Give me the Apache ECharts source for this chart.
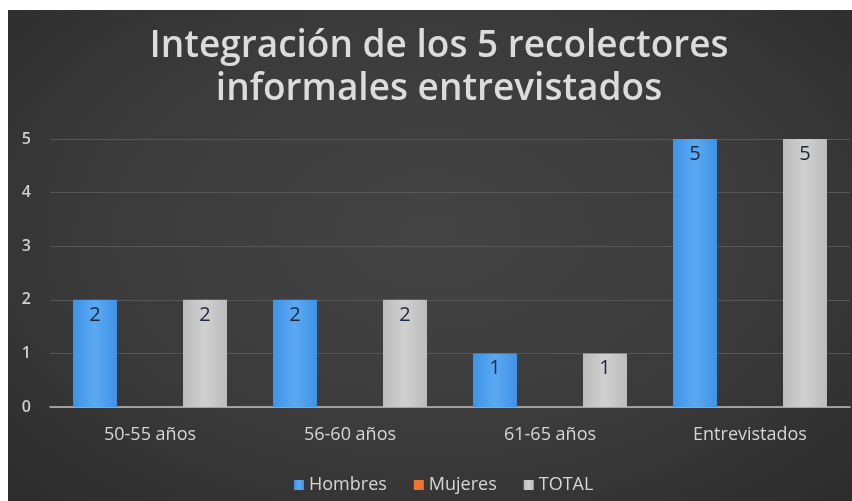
<!DOCTYPE html>
<html>
<head>
<meta charset="utf-8">
<script src="https://cdn.jsdelivr.net/npm/echarts@6/dist/echarts.min.js"></script>
<style>
  html, body { margin: 0; padding: 0; background: #fff; }
  #chart {
    position: absolute; left: 8px; top: 10px; width: 844px; height: 491px;
    background: radial-gradient(ellipse at 50% 45%, #444444 0%, #3b3b3b 55%, #2c2c2c 100%);
  }
</style>
</head>
<body>
<div id="chart"></div>
<script>
// categorías y valores
const categories = ['50-55 años', '56-60 años', '61-65 años', 'Entrevistados'];
const hombres = [2, 2, 1, 5];
const mujeres = [0, 0, 0, 0];
const total = [2, 2, 1, 5];
const yTicks = [0, 1, 2, 3, 4, 5];

const chart = echarts.init(document.getElementById('chart'));

const labelStyle = {
    show: true,
    position: 'insideTop',
    distance: 5,
    color: '#1b2742',
    fontSize: 20,
    fontFamily: 'Open Sans'
};

const option = {
    backgroundColor: 'transparent',
    title: {
        text: 'Integración de los 5 recolectores\ninformales entrevistados',
        left: 426,
        top: 10,
        textAlign: 'center',
        textStyle: {
            color: '#dcdcdc',
            fontSize: 37,
            fontWeight: 600,
            fontFamily: 'Open Sans',
            lineHeight: 43
        }
    },
    legend: {
        left: 281,
        top: 461,
        icon: 'rect',
        itemWidth: 10,
        itemHeight: 10,
        itemGap: 27,
        textStyle: { color: '#d6d6d6', fontSize: 18, fontFamily: 'Open Sans' },
        data: ['Hombres', 'Mujeres', 'TOTAL']
    },
    grid: { left: 42, right: 2, top: 129, bottom: 94 },
    xAxis: {
        type: 'category',
        data: categories,
        axisLine: { lineStyle: { color: '#bdbdbd', width: 1.5 } },
        axisTick: { show: false },
        axisLabel: { color: '#d6d6d6', fontSize: 18, margin: 19, fontFamily: 'Open Sans' }
    },
    yAxis: {
        type: 'value',
        min: yTicks[0],
        max: yTicks[yTicks.length - 1],
        interval: 1,
        axisLine: { show: false },
        axisTick: { show: false },
        splitLine: { lineStyle: { color: '#575757' } },
        axisLabel: { color: '#d0d0d0', fontSize: 16, margin: 19, fontWeight: 600, fontFamily: 'Open Sans' }
    },
    series: [
        {
            name: 'Hombres', type: 'bar', data: hombres,
            barWidth: 44, barGap: '25%',
            itemStyle: { color: new echarts.graphic.LinearGradient(0, 0, 1, 0, [
                { offset: 0, color: '#3f93e6' }, { offset: 0.5, color: '#5aa9f2' }, { offset: 1, color: '#3f93e6' }
            ]) },
            label: labelStyle
        },
        {
            name: 'Mujeres', type: 'bar', data: mujeres,
            barWidth: 44, barGap: '25%',
            itemStyle: { color: '#f07433' },
            label: { show: false }
        },
        {
            name: 'TOTAL', type: 'bar', data: total,
            barWidth: 44, barGap: '25%',
            itemStyle: { color: new echarts.graphic.LinearGradient(0, 0, 1, 0, [
                { offset: 0, color: '#bcbcbc' }, { offset: 0.5, color: '#d0d0d0' }, { offset: 1, color: '#bcbcbc' }
            ]) },
            label: labelStyle
        }
    ]
};
chart.setOption(option);
</script>
</body>
</html>
